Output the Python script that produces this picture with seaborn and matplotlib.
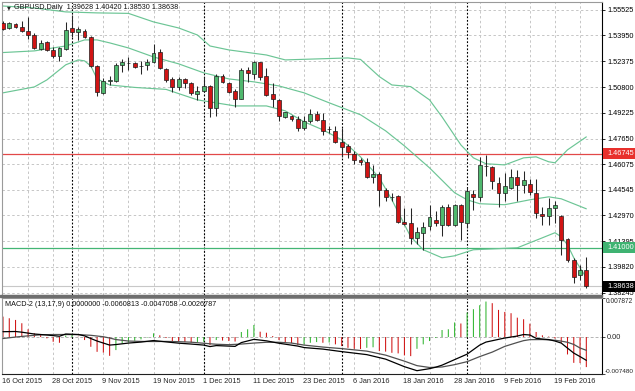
import matplotlib
matplotlib.use("Agg")
import matplotlib.pyplot as plt
from matplotlib.patches import Rectangle
from matplotlib.transforms import blended_transform_factory as blend
import numpy as np
import pandas as pd
import seaborn as sns

sns.set_style("white")
plt.rcParams["font.family"] = ["Liberation Sans", "DejaVu Sans"]

# ---------------- data (GBPUSD daily, 16 Oct 2015 - 26 Feb 2016) ----------------
opens = [1.5470, 1.5439, 1.5466, 1.5449, 1.5421, 1.5397, 1.5315, 1.5354, 1.5307, 1.5270,
         1.5311, 1.5439, 1.5419, 1.5423, 1.5384, 1.5209, 1.5047, 1.5120, 1.5120, 1.5216,
         1.5230, 1.5226, 1.5211, 1.5216, 1.5236, 1.5297, 1.5189, 1.5128, 1.5083, 1.5128,
         1.5104, 1.5039, 1.5059, 1.5087, 1.4951, 1.5148, 1.5104, 1.5059, 1.5008, 1.5185,
         1.5161, 1.5232, 1.5148, 1.5037, 1.5002, 1.4900, 1.4904, 1.4884, 1.4829, 1.4874,
         1.4915, 1.4880, 1.4823, 1.4813, 1.4742, 1.4721, 1.4673, 1.4636, 1.4620, 1.4530,
         1.4551, 1.4449, 1.4409, 1.4416, 1.4258, 1.4250, 1.4158, 1.4189, 1.4229, 1.4270,
         1.4240, 1.4351, 1.4240, 1.4362, 1.4250, 1.4429, 1.4412, 1.4599, 1.4591, 1.4497,
         1.4433, 1.4463, 1.4530, 1.4483, 1.4488, 1.4433, 1.4307, 1.4294, 1.4341, 1.4290,
         1.4152, 1.4026, 1.3935, 1.39628]
highs = [1.5484, 1.5480, 1.5474, 1.5486, 1.5510, 1.5409, 1.5368, 1.5364, 1.5327, 1.5327,
         1.5480, 1.5521, 1.5449, 1.5433, 1.5392, 1.5215, 1.5134, 1.5148, 1.5226, 1.5250,
         1.5262, 1.5236, 1.5242, 1.5250, 1.5344, 1.5311, 1.5195, 1.5144, 1.5140, 1.5134,
         1.5114, 1.5087, 1.5144, 1.5093, 1.5161, 1.5161, 1.5114, 1.5067, 1.5195, 1.5205,
         1.5242, 1.5236, 1.5195, 1.5104, 1.5006, 1.4931, 1.4911, 1.4904, 1.4904, 1.4945,
         1.4937, 1.4921, 1.4845, 1.4843, 1.4829, 1.4732, 1.4687, 1.4646, 1.4646, 1.4605,
         1.4559, 1.4463, 1.4433, 1.4422, 1.4341, 1.4341, 1.4225, 1.4254, 1.4362, 1.4321,
         1.4362, 1.4368, 1.4365, 1.4365, 1.4463, 1.4453, 1.4656, 1.4667, 1.4599, 1.4534,
         1.4555, 1.4579, 1.4571, 1.4565, 1.4518, 1.4518, 1.4351, 1.4402, 1.4382, 1.4300,
         1.4160, 1.4036, 1.3996, 1.40420]
lows = [1.5429, 1.5433, 1.5439, 1.5419, 1.5372, 1.5311, 1.5307, 1.5303, 1.5256, 1.5242,
        1.5307, 1.5388, 1.5368, 1.5378, 1.5205, 1.5026, 1.5039, 1.5093, 1.5114, 1.5175,
        1.5185, 1.5195, 1.5161, 1.5185, 1.5230, 1.5189, 1.5114, 1.5053, 1.5063, 1.5073,
        1.5032, 1.5002, 1.5053, 1.4900, 1.4904, 1.5104, 1.5043, 1.4961, 1.5006, 1.5114,
        1.5128, 1.5124, 1.5026, 1.4961, 1.4870, 1.4890, 1.4876, 1.4809, 1.4819, 1.4860,
        1.4870, 1.4789, 1.4799, 1.4738, 1.4656, 1.4646, 1.4612, 1.4605, 1.4524, 1.4497,
        1.4355, 1.4382, 1.4382, 1.4250, 1.4241, 1.4124, 1.4124, 1.4083, 1.4205, 1.4229,
        1.4172, 1.4233, 1.4233, 1.4148, 1.4219, 1.4331, 1.4382, 1.4538, 1.4457, 1.4351,
        1.4382, 1.4457, 1.4382, 1.4433, 1.4423, 1.4280, 1.4240, 1.4240, 1.4250, 1.4056,
        1.4014, 1.3884, 1.3904, 1.38530]
closes = [1.5437, 1.5470, 1.5449, 1.5425, 1.5397, 1.5317, 1.5352, 1.5307, 1.5272, 1.5317,
          1.5429, 1.5415, 1.5433, 1.5388, 1.5209, 1.5053, 1.5118, 1.5124, 1.5216, 1.5236,
          1.5229, 1.5205, 1.5210, 1.5236, 1.5291, 1.5195, 1.5124, 1.5083, 1.5128, 1.5104,
          1.5043, 1.5059, 1.5087, 1.4951, 1.5148, 1.5114, 1.5053, 1.5008, 1.5185, 1.5165,
          1.5232, 1.5144, 1.5032, 1.5006, 1.4904, 1.4925, 1.4884, 1.4829, 1.4874, 1.4915,
          1.4880, 1.4815, 1.4822, 1.4742, 1.4717, 1.4685, 1.4636, 1.4620, 1.4530, 1.4551,
          1.4449, 1.4408, 1.4408, 1.4254, 1.4246, 1.4158, 1.4193, 1.4225, 1.4284, 1.4250,
          1.4351, 1.4240, 1.4362, 1.4258, 1.4443, 1.4408, 1.4605, 1.4600, 1.4504, 1.4433,
          1.4477, 1.4530, 1.4483, 1.4514, 1.4437, 1.4311, 1.4294, 1.4341, 1.4362, 1.4148,
          1.4022, 1.3920, 1.3965, 1.38638]

date_labels = ["16 Oct 2015", "28 Oct 2015", "9 Nov 2015", "19 Nov 2015", "1 Dec 2015",
               "11 Dec 2015", "23 Dec 2015", "6 Jan 2016", "18 Jan 2016", "28 Jan 2016",
               "9 Feb 2016", "19 Feb 2016"]
date_idx = [0, 8, 16, 24, 32, 40, 48, 56, 64, 72, 80, 88]
month_sep_idx = [11, 32, 54, 74]

price_tick_labels = ["1.55525", "1.53950", "1.52375", "1.50800", "1.49225", "1.47650",
                     "1.46075", "1.44545", "1.42970", "1.41395", "1.39820", "1.38245"]
price_ticks = [float(s) for s in price_tick_labels]
resistance = 1.46745
support = 1.41000
last_price = 1.38638
title_ohlc = "1.39628 1.40420 1.38530 1.38638"

# Bollinger bands (read at key bars)
bb_up_idx = [0, 5, 10, 15, 20, 24, 28, 31, 33, 36, 42, 45, 50, 55, 57, 60, 62, 65, 68, 70,
             73, 75, 77, 80, 83, 85, 87, 88, 90, 93]
bb_up = [1.5575, 1.5563, 1.5539, 1.5533, 1.5530, 1.5478, 1.5441, 1.5398, 1.5331, 1.5307,
         1.5276, 1.5246, 1.5252, 1.5258, 1.5249, 1.5144, 1.5093, 1.5083, 1.5002, 1.4898,
         1.4727, 1.4648, 1.4612, 1.4605, 1.4648, 1.4654, 1.4624, 1.4618, 1.4697, 1.4776]
bb_mid_idx = [0, 5, 10, 13, 15, 17, 20, 24, 28, 32, 36, 40, 44, 48, 52, 57, 61, 64, 68, 72,
              74, 76, 80, 84, 87, 89, 93]
bb_mid = [1.5291, 1.5301, 1.5331, 1.5368, 1.5368, 1.5350, 1.5319, 1.5264, 1.5222, 1.5167,
          1.5130, 1.5112, 1.5087, 1.5045, 1.4984, 1.4911, 1.4813, 1.4721, 1.4587, 1.4435,
          1.4392, 1.4368, 1.4362, 1.4392, 1.4410, 1.4398, 1.4337]
bb_lo_idx = [0, 5, 7, 10, 12, 13, 14, 15, 17, 21, 26, 31, 37, 42, 45, 48, 51, 54, 57, 60,
             62, 65, 67, 70, 72, 75, 82, 86, 88, 89, 90, 91, 92, 93]
bb_lo = [1.5045, 1.5081, 1.5124, 1.5216, 1.5246, 1.5240, 1.5209, 1.5130, 1.5093, 1.5078,
         1.5066, 1.5002, 1.4965, 1.4965, 1.4935, 1.4868, 1.4819, 1.4758, 1.4654, 1.4526,
         1.4392, 1.4166, 1.4087, 1.4038, 1.4050, 1.4087, 1.4099, 1.4160, 1.4191, 1.4166,
         1.4117, 1.4038, 1.3977, 1.3916]

# MACD-2 (13,17,9)
macd_hist = [0.00413, 0.00380, 0.00346, 0.00279, 0.00157, 0.00075, 0.00041, -0.00026, -0.00096, -0.00116,
             0.00030, 0.00051, 0.00006, -0.00061, -0.00197, -0.00299, -0.00315, -0.00380, -0.00264, -0.00128,
             -0.00108, -0.00075, -0.00047, -0.00010, 0.00075, 0.00035, -0.00020, -0.00096, -0.00098, -0.00102,
             -0.00116, -0.00106, -0.00096, -0.00163, -0.00061, -0.00071, -0.00081, -0.00091, 0.00102, 0.00157,
             0.00244, 0.00108, 0.00087, 0.00020, -0.00061, -0.00102, -0.00122, -0.00163, -0.00148, -0.00116,
             -0.00102, -0.00116, -0.00110, -0.00148, -0.00183, -0.00218, -0.00238, -0.00242, -0.00218, -0.00207,
             -0.00285, -0.00295, -0.00319, -0.00331, -0.00372, -0.00386, -0.00238, -0.00148, -0.00081, -0.00020,
             0.00142, 0.00157, 0.00295, 0.00274, 0.00494, 0.00563, 0.00644, 0.00718, 0.00685, 0.00549,
             0.00508, 0.00482, 0.00392, 0.00360, 0.00270, 0.00102, 0.00035, 0.00010, -0.00030, -0.00116,
             -0.00352, -0.00522, -0.00527, -0.00608]
macd_idx = [0, 2, 3, 5, 7, 9, 10, 12, 13, 14, 15, 17, 18, 20, 22, 24, 26, 28, 30, 32, 33, 34, 37,
            38, 40, 42, 44, 47, 48, 51, 54, 58, 61, 64, 66, 68, 69, 70, 72, 74, 76, 77, 80, 82,
            83, 84, 85, 86, 87, 88, 89, 90, 91, 92, 93]
macd_line = [0.00108, 0.00112, 0.00098, 0.00061, 0.00041, 0.00016, 0.00061, 0.00051, 0.00024,
             -0.00030, -0.00081, -0.00163, -0.00152, -0.00122, -0.00102, -0.00071, -0.00098,
             -0.00124, -0.00142, -0.00163, -0.00193, -0.00173, -0.00189, -0.00112, -0.00047,
             -0.00077, -0.00126, -0.00183, -0.00213, -0.00244, -0.00295, -0.00356, -0.00447,
             -0.00600, -0.00681, -0.00640, -0.00610, -0.00569, -0.00457, -0.00346, -0.00163,
             -0.00102, -0.00020, 0.00020, 0.00051, 0.00041, -0.00026, -0.00041, -0.00051,
             -0.00081, -0.00122, -0.00224, -0.00325, -0.00396, -0.00471]
signal_idx = [0, 2, 4, 6, 8, 10, 12, 14, 16, 17, 18, 20, 22, 24, 26, 28, 30, 32, 34, 36, 38,
              40, 42, 44, 46, 48, 51, 54, 58, 61, 64, 66, 68, 70, 72, 74, 76, 78, 80, 82, 83,
              84, 86, 88, 89, 90, 91, 92, 93]
signal_line = [-0.00030, 0.00000, 0.00024, 0.00045, 0.00051, 0.00051, 0.00049, 0.00035, 0.00006,
               -0.00020, -0.00051, -0.00081, -0.00089, -0.00091, -0.00089, -0.00094, -0.00104,
               -0.00126, -0.00146, -0.00155, -0.00142, -0.00122, -0.00106, -0.00106, -0.00122,
               -0.00163, -0.00203, -0.00234, -0.00285, -0.00366, -0.00488, -0.00579, -0.00616,
               -0.00606, -0.00559, -0.00498, -0.00396, -0.00305, -0.00189, -0.00110, -0.00073,
               -0.00053, -0.00051, -0.00065, -0.00083, -0.00106, -0.00150, -0.00222, -0.00268]
macd_header = "MACD-2 (13,17,9) 0.0000000 -0.0060813 -0.0047058 -0.0026787"
macd_top, macd_bottom = 0.007872, -0.007480

# ---------------- figure ----------------
W, H = 635, 391
fig = plt.figure(figsize=(W / 100, H / 100), dpi=100)
fig.patch.set_facecolor("white")
xl, xr = 2 / W, 602 / W
ax = fig.add_axes([xl, 1 - 294.5 / H, xr - xl, 292.5 / H])
am = fig.add_axes([xl, 1 - 374 / H, xr - xl, 76.5 / H])

n = len(opens)
idx = np.arange(n)
o, h, l, c = (np.array(v) for v in (opens, highs, lows, closes))

grid_kw = dict(color="#c6c6c6", lw=0.7, ls=(0, (2.5, 2.5)), zorder=0)
for a in (ax, am):
    a.set_facecolor("white")
    for k in range(4, 96, 4):
        a.axvline(k, **grid_kw)
    for k in month_sep_idx:
        a.axvline(k, color="black", lw=0.8, ls=(0, (1.6, 1.6)), zorder=1)
    a.set_xlim(-0.16, 95.5)
for p in price_ticks:
    ax.axhline(p, **grid_kw)
am.axhline(0, color="#b4b4b4", lw=0.7, ls=(0, (3, 2)), zorder=0)

# horizontal levels
ax.axhline(last_price, color="#c8c8c8", lw=0.8, zorder=1)
ax.axhline(resistance, color="#e24848", lw=0.9, zorder=2)
ax.axhline(support, color="#43b574", lw=0.9, zorder=2)

# Bollinger bands
for bx, by in ((bb_up_idx, bb_up), (bb_mid_idx, bb_mid), (bb_lo_idx, bb_lo)):
    sns.lineplot(x=bx, y=by, ax=ax, color="#6cc595", lw=0.85, estimator=None, sort=False,
                 zorder=2)

# candles
up = c >= o
ax.vlines(idx, l, h, color="#262626", lw=0.75, zorder=3)
ax.bar(idx[up], (c - o)[up], bottom=o[up], width=0.62, color="#4fb86e",
       edgecolor="#1e1e1e", linewidth=0.5, zorder=4)
ax.bar(idx[~up], (o - c)[~up], bottom=c[~up], width=0.62, color="#d11414",
       edgecolor="#1e1e1e", linewidth=0.5, zorder=4)

ax.set_ylim(1.38138, 1.55995)
ax.yaxis.tick_right()
ax.set_yticks(price_ticks)
ax.set_yticklabels(price_tick_labels)
ax.tick_params(axis="y", length=2.5, width=0.6, pad=1.5, labelsize=5.3, colors="black",
               right=True, left=False)
ax.tick_params(axis="x", bottom=False, labelbottom=False)
ax.set_xlabel("")
ax.set_ylabel("")

# price tags on the axis
tr = blend(ax.transAxes, ax.transData)
hh = 5.2 / 1638
for price, text, fc in ((resistance, "1.46745", "#e8302c"), (support, "1.41000", "#3fb372"),
                        (last_price, "1.38638", "#000000")):
    ax.add_patch(Rectangle((1.0017, price - hh), 0.06, 2 * hh, transform=tr, fc=fc,
                           ec="none", clip_on=False, zorder=10))
    ax.text(1.0083, price, text, transform=tr, color="white", fontsize=5.3, va="center",
            ha="left", clip_on=False, zorder=11)

# chart title
ax.text(0.0108, 0.981, "\u25bc", transform=ax.transAxes, fontsize=3.6, ha="center",
        va="center", family=["DejaVu Sans"], zorder=12)
ax.text(0.020, 0.981, "GBPUSD,Daily  " + title_ohlc, transform=ax.transAxes, fontsize=5.25,
        ha="left", va="center", color="#111111", zorder=12)

# MACD panel
hist = np.array(macd_hist)
prev = np.concatenate([[np.inf], hist[:-1]])
cols = np.where(hist > prev, "#2fb52f", "#d01212")
am.vlines(idx, 0, hist, colors=cols, lw=0.75, snap=False, zorder=2)
sns.lineplot(x=signal_idx, y=signal_line, ax=am, color="#505050", lw=0.9, estimator=None,
             sort=False, zorder=3)
sns.lineplot(x=macd_idx, y=macd_line, ax=am, color="black", lw=0.9, estimator=None,
             sort=False, zorder=4)
am.set_ylim(macd_bottom, 0.0080)
am.yaxis.tick_right()
am.set_yticks([macd_top, 0.0, macd_bottom])
am.set_yticklabels(["", "", ""])
am.tick_params(axis="y", length=2.5, width=0.6, right=True, left=False)
am.tick_params(axis="x", bottom=False, labelbottom=False)
am.set_xlabel("")
am.set_ylabel("")
trm = blend(am.transAxes, am.transData)
am.text(1.0055, macd_top, "0.007872", transform=trm, fontsize=4.8, va="top", ha="left",
        clip_on=False)
am.text(1.0083, 0.0, "0.00", transform=trm, fontsize=5.3, va="center", ha="left",
        clip_on=False)
am.text(1.0040, macd_bottom, "-0.007480", transform=trm, fontsize=4.6, va="bottom",
        ha="left", clip_on=False)
am.text(0.005, 0.915, macd_header, transform=am.transAxes, fontsize=5.2, ha="left",
        va="center", color="#111111")

# date labels
trd = blend(am.transData, am.transAxes)
for i, lab in zip(date_idx, date_labels):
    am.text(i - 0.15, -0.098, lab, transform=trd, fontsize=5.3, ha="left", va="center",
            clip_on=False)

# borders
for a in (ax, am):
    for s in ("left", "top"):
        a.spines[s].set_color("#9a9a9a")
        a.spines[s].set_linewidth(0.8)
    a.spines["right"].set_color("black")
    a.spines["right"].set_linewidth(0.8)
ax.spines["bottom"].set_color("#6e6e6e")
ax.spines["bottom"].set_linewidth(0.8)
am.spines["bottom"].set_color("#202020")
am.spines["bottom"].set_linewidth(0.8)
fig.add_artist(Rectangle((0, 1 - 297.3 / H), 602 / W, 2.8 / H, transform=fig.transFigure,
                         color="#6e6e6e", zorder=20))

fig.savefig("out.png", dpi=100, facecolor="white")
